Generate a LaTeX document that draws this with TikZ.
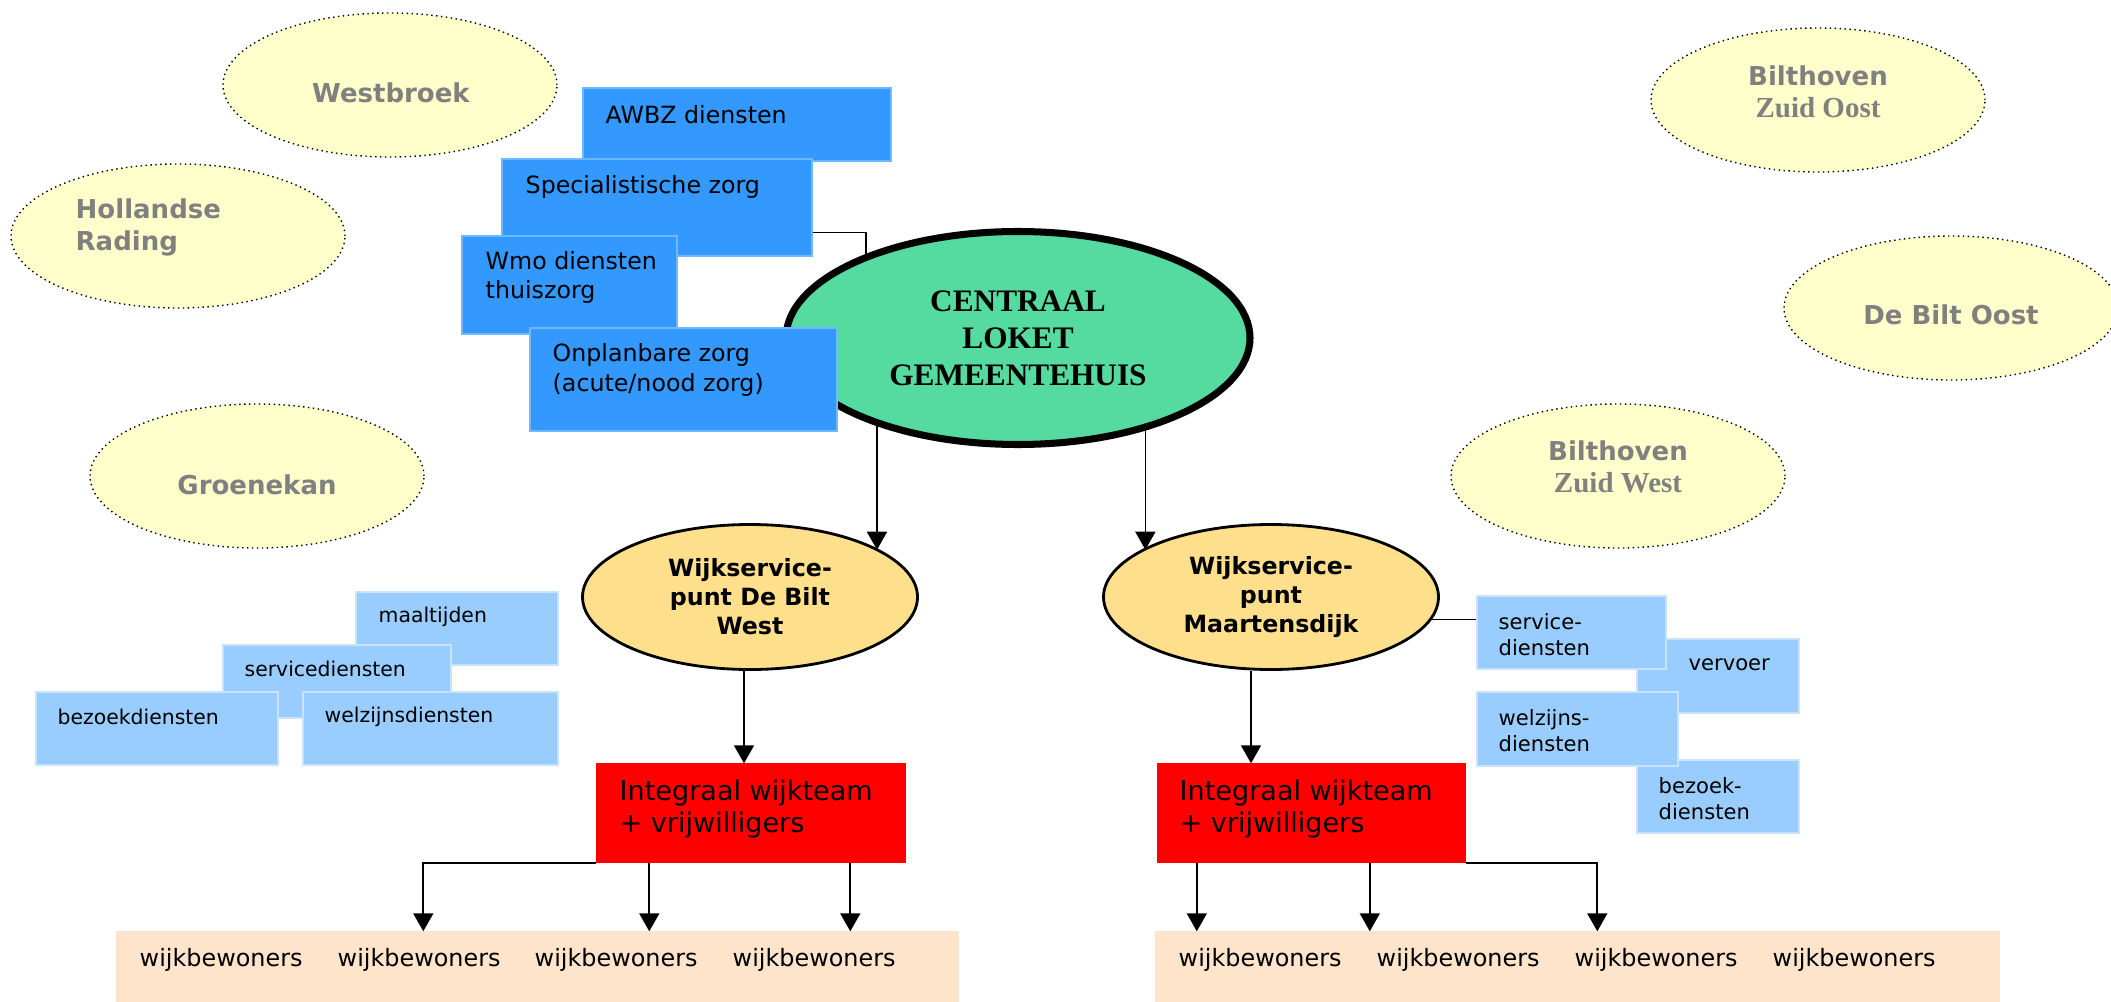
\documentclass[tikz,border=0pt]{standalone}
\usepackage{fontspec}
\setmainfont{DejaVu Sans}
\newfontfamily\tmsfont{Liberation Serif}
\newcommand\zuidfont{\tmsfont\fontsize{8.25}{9.1}\selectfont}
\usetikzlibrary{shapes.geometric,arrows.meta}

\begin{document}
\begin{tikzpicture}[
  areashape/.style={fill=areacolor,draw=black,line width=0.4pt,densely dotted},
  arealabel/.style={text=labelgrey,font=\fontsize{7.4}{9.1}\selectfont\bfseries,align=center,inner sep=0pt},
  loketshape/.style={ellipse,fill=loketcolor,draw=black,line width=2pt,inner sep=0pt,
    minimum width=4.64cm,minimum height=2.13cm,align=center,
    font=\tmsfont\fontsize{8.9}{10.5}\selectfont\bfseries},
  wijkshape/.style={ellipse,fill=wijkcolor,draw=black,line width=0.8pt,inner sep=0pt,
    minimum width=3.35cm,minimum height=1.45cm,align=center,
    font=\fontsize{6.75}{8.25}\selectfont\bfseries},
  dbox/.style={rectangle,fill=darkblue,draw=darkblue!70!white,line width=0.4pt,inner sep=0pt},
  lbox/.style={rectangle,fill=lightblue,draw=lightblue!55!white,line width=0.4pt,inner sep=0pt},
  teambox/.style={rectangle,fill=teamred,draw=teamred,inner sep=0pt,minimum width=3.08cm,minimum height=0.98cm},
  bewbox/.style={rectangle,fill=bewcolor,draw=bewcolor,inner sep=0pt,minimum height=0.69cm},
  dtxt/.style={anchor=west,align=left,inner sep=0pt,font=\fontsize{6.75}{8.4}\selectfont},
  ltxt/.style={anchor=west,align=left,inner sep=0pt,font=\fontsize{6}{7.4}\selectfont},
  teamtxt/.style={anchor=west,align=left,inner sep=0pt,font=\fontsize{7.7}{9.1}\selectfont},
  bewtxt/.style={anchor=west,inner sep=0pt,font=\fontsize{6.8}{8}\selectfont},
  link/.style={line width=0.5pt},
  arr/.style={line width=0.5pt,-{Triangle[width=0.2cm,length=0.18cm]}}
]
\definecolor{areacolor}{RGB}{255,255,204}
\definecolor{labelgrey}{RGB}{128,128,128}
\definecolor{loketcolor}{RGB}{85,218,160}
\definecolor{wijkcolor}{RGB}{254,224,140}
\definecolor{darkblue}{RGB}{51,153,255}
\definecolor{lightblue}{RGB}{153,204,255}
\definecolor{teamred}{RGB}{255,0,0}
\definecolor{bewcolor}{RGB}{254,228,202}
\useasboundingbox (0,0) rectangle (21.11,10.01);

% outlying areas
\draw [areashape] (3.90,9.16) ellipse [x radius=1.67,y radius=0.72];
\node [arealabel] (westbroek) at (3.91,9.08) {Westbroek};
\draw [areashape] (1.78,7.65) ellipse [x radius=1.67,y radius=0.72];
\node [arealabel,anchor=west,align=left] (hrading) at (0.75,7.74) {Hollandse\\Rading};
\draw [areashape] (2.57,5.25) ellipse [x radius=1.67,y radius=0.72];
\node [arealabel] (groenekan) at (2.57,5.16) {Groenekan};
\draw [areashape] (18.18,9.01) ellipse [x radius=1.67,y radius=0.72];
\node [arealabel] (bzo) at (18.18,9.09) {Bilthoven\\{\zuidfont Zuid Oost}};
\draw [areashape] (19.51,6.93) ellipse [x radius=1.67,y radius=0.72];
\node [arealabel] (dbo) at (19.51,6.86) {De Bilt Oost};
\draw [areashape] (16.18,5.25) ellipse [x radius=1.67,y radius=0.72];
\node [arealabel] (bzw) at (16.18,5.34) {Bilthoven\\{\zuidfont Zuid West}};

% centre
\node [loketshape] (loket) at (10.18,6.63) {CENTRAAL\\LOKET\\GEMEENTEHUIS};

% services around the centre
\node [dbox,minimum width=3.08cm,minimum height=0.73cm] (awbz) at (7.37,8.765) {};
\node [dtxt] (awbz-t) at (6.05,8.86) {AWBZ diensten};
\node [dbox,minimum width=3.10cm,minimum height=0.97cm] (spec) at (6.57,7.935) {};
\node [dtxt] (spec-t) at (5.25,8.14) {Specialistische zorg};
\node [dbox,minimum width=2.15cm,minimum height=0.98cm] (wmo) at (5.695,7.16) {};
\node [dtxt] (wmo-t) at (4.85,7.235) {Wmo diensten\\thuiszorg};
\node [dbox,minimum width=3.07cm,minimum height=1.03cm] (onpl) at (6.835,6.215) {};
\node [dtxt] (onpl-t) at (5.52,6.31) {Onplanbare zorg\\(acute/nood zorg)};

% service points
\node [wijkshape] (dbw) at (7.50,4.04) {Wijkservice-\\punt De Bilt\\West};
\node [wijkshape] (mdijk) at (12.71,4.04) {Wijkservice-\\punt\\Maartensdijk};

% services west
\node [lbox,minimum width=2.02cm,minimum height=0.73cm] (maal) at (4.57,3.725) {};
\node [ltxt,font=\fontsize{5.8}{7.2}\selectfont] (maal-t) at (3.78,3.84) {maaltijden};
\node [lbox,minimum width=2.28cm,minimum height=0.73cm] (sdl) at (3.37,3.195) {};
\node [ltxt,font=\fontsize{5.8}{7.2}\selectfont] (sdl-t) at (2.44,3.32) {servicediensten};
\node [lbox,minimum width=2.42cm,minimum height=0.73cm] (bzl) at (1.57,2.725) {};
\node [ltxt,font=\fontsize{5.8}{7.2}\selectfont] (bzl-t) at (0.57,2.84) {bezoekdiensten};
\node [lbox,minimum width=2.55cm,minimum height=0.73cm] (wzl) at (4.305,2.725) {};
\node [ltxt,font=\fontsize{5.8}{7.2}\selectfont] (wzl-t) at (3.24,2.84) {welzijnsdiensten};

% services east
\node [lbox,minimum width=1.62cm,minimum height=0.74cm] (vervoer) at (17.18,3.25) {};
\node [ltxt] (vervoer-t) at (16.88,3.36) {vervoer};
\node [lbox,minimum width=1.62cm,minimum height=0.73cm] (bzr) at (17.18,2.045) {};
\node [ltxt] (bzr-t) at (16.58,2.02) {bezoek-\\diensten};
\node [lbox,minimum width=1.89cm,minimum height=0.73cm] (svc) at (15.715,3.685) {};
\node [ltxt] (svc-t) at (14.98,3.66) {service-\\diensten};
\node [lbox,minimum width=2.01cm,minimum height=0.74cm] (wzr) at (15.775,2.72) {};
\node [ltxt] (wzr-t) at (14.98,2.705) {welzijns-\\diensten};

% teams
\node [teambox] (team1) at (7.51,1.88) {};
\node [teamtxt] (team1-t) at (6.19,1.92) {Integraal wijkteam\\+ vrijwilligers};
\node [teambox] (team2) at (13.115,1.88) {};
\node [teamtxt] (team2-t) at (11.79,1.92) {Integraal wijkteam\\+ vrijwilligers};

% residents
\node [bewbox,minimum width=8.41cm] (bwL) at (5.375,0.345) {};
\node [bewtxt] (bwl1) at (1.39,0.41) {wijkbewoners};
\node [bewtxt] (bwl2) at (3.37,0.41) {wijkbewoners};
\node [bewtxt] (bwl3) at (5.34,0.41) {wijkbewoners};
\node [bewtxt] (bwl4) at (7.32,0.41) {wijkbewoners};
\node [bewbox,minimum width=8.43cm] (bwR) at (15.775,0.345) {};
\node [bewtxt] (bwr1) at (11.78,0.41) {wijkbewoners};
\node [bewtxt] (bwr2) at (13.76,0.41) {wijkbewoners};
\node [bewtxt] (bwr3) at (15.74,0.41) {wijkbewoners};
\node [bewtxt] (bwr4) at (17.72,0.41) {wijkbewoners};

% connectors
\draw [link] ([yshift=-0.25cm]spec.east) -| (loket.151);
\draw [arr] (loket.212) -- (loket.212 |- dbw.20);
\draw [arr] (loket.-36) -- (loket.-36 |- mdijk.160);
\draw [arr] ([xshift=-0.06cm]dbw.south) -- ([xshift=-0.06cm]dbw.south |- team1.north);
\draw [arr] ([xshift=-0.2cm]mdijk.south) -- ([xshift=-0.2cm]mdijk.south |- team2.north);
\draw [link] (mdijk.-8) -- (mdijk.-8 -| svc.west);
\draw [arr] (team1.south west) -| ([xshift=3.07cm]bwL.north west);
\draw [arr] ([xshift=0.53cm]team1.south west) -- ([xshift=0.53cm]team1.south west |- bwL.north);
\draw [arr] ([xshift=2.54cm]team1.south west) -- ([xshift=2.54cm]team1.south west |- bwL.north);
\draw [arr] ([xshift=0.40cm]team2.south west) -- ([xshift=0.40cm]team2.south west |- bwR.north);
\draw [arr] ([xshift=2.13cm]team2.south west) -- ([xshift=2.13cm]team2.south west |- bwR.north);
\draw [arr] (team2.south east) -| ([xshift=4.42cm]bwR.north west);
\end{tikzpicture}
\end{document}
